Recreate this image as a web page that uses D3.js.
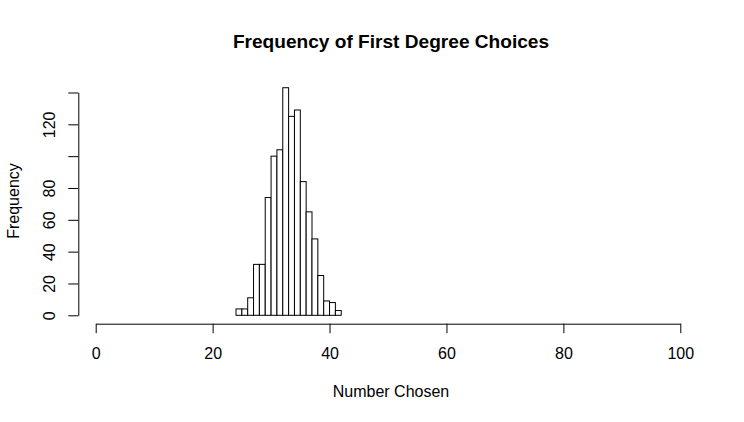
<!DOCTYPE html>
<html>
<head>
<meta charset="utf-8">
<script src="https://cdn.jsdelivr.net/npm/d3@7"></script>
<style>
  body { margin: 0; background: #fff; }
  svg text { font-family: "Liberation Sans", Arial, Helvetica, sans-serif; fill: #000; }
</style>
</head>
<body>
<script>

// histogram bins (left edges) and counts
var binStarts = [24, 25, 26, 27, 28, 29, 30, 31, 32, 33, 34, 35, 36, 37, 38, 39, 40, 41];
var counts    = [4, 4, 11, 32, 32, 74, 100, 104, 143, 125, 129, 84, 65, 48, 25, 9, 8, 3];
var binWidth  = 1;

var xTicks = [0, 20, 40, 60, 80, 100];
var yTicks = [0, 20, 40, 60, 80, 100, 120, 140];
var yLabelsShown = [0, 20, 40, 60, 80, 120];

var width = 744,
	height = 422;

var x = d3.scaleLinear()
	.domain([0, 100])
	.range([95.7, 680.3]);

var y = d3.scaleLinear()
	.domain([0, 140])
	.range([315.3, 92.5]);

var svg = d3.select("body").append("svg")
	.attr("width", width)
	.attr("height", height)
	.style("background-color", "#fff");

// bars
svg.append("g")
	.selectAll("rect")
	.data(counts)
	.enter().append("rect")
	.attr("x", function(d, i) { return x(binStarts[i]); })
	.attr("y", function(d) { return y(d); })
	.attr("width", function(d, i) { return x(binStarts[i] + binWidth) - x(binStarts[i]); })
	.attr("height", function(d) { return y(0) - y(d); })
	.style("fill", "#fff")
	.style("stroke", "#000")
	.style("stroke-width", 1);

// x axis
var xAxis = svg.append("g")
	.attr("transform", "translate(0,323.7)")
	.call(d3.axisBottom(x).tickValues(xTicks).tickSize(9.5).tickSizeOuter(0).tickFormat(d3.format("d")));

xAxis.selectAll("text")
	.attr("y", 35.5)
	.attr("dy", 0)
	.style("font-size", "16px");

// y axis
var yAxis = svg.append("g")
	.attr("transform", "translate(78.3,0)")
	.call(d3.axisLeft(y).tickValues(yTicks).tickSize(10).tickSizeOuter(0)
		.tickFormat(function(d) { return yLabelsShown.indexOf(d) >= 0 ? d : ""; }));

yAxis.selectAll("text")
	.attr("transform", "rotate(-90)")
	.attr("x", 0)
	.attr("y", -23.3)
	.attr("dy", 0)
	.style("text-anchor", "middle")
	.style("font-size", "16px");

svg.selectAll(".domain, .tick line")
	.style("stroke", "#000");

svg.selectAll("g").attr("font-family", null);

// title and axis labels
svg.append("text")
	.attr("x", 391)
	.attr("y", 48)
	.style("text-anchor", "middle")
	.style("font-size", "19.1px")
	.style("font-weight", "bold")
	.text("Frequency of First Degree Choices");

svg.append("text")
	.attr("x", 391)
	.attr("y", 397.3)
	.style("text-anchor", "middle")
	.style("font-size", "16px")
	.text("Number Chosen");

svg.append("text")
	.attr("transform", "translate(18.7,201)rotate(-90)")
	.style("text-anchor", "middle")
	.style("font-size", "16px")
	.text("Frequency");

</script>
</body>
</html>
